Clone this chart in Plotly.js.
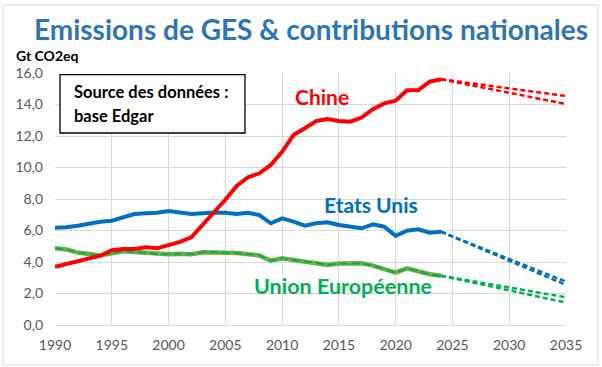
<!DOCTYPE html>
<html>
<head>
<meta charset="utf-8">
<script src="https://cdn.plot.ly/plotly-3.0.1.min.js"></script>
<style>
html,body{margin:0;padding:0;background:#fff;}
#chart{width:602px;height:367px;}
</style>
</head>
<body>
<div id="chart"></div>
<script>
// ---- Data ----
const years = [1990,1991,1992,1993,1994,1995,1996,1997,1998,1999,2000,2001,2002,2003,2004,2005,2006,2007,2008,2009,2010,2011,2012,2013,2014,2015,2016,2017,2018,2019,2020,2021,2022,2023,2024];
const chine = [3.70,3.90,4.05,4.23,4.40,4.75,4.83,4.83,4.93,4.87,5.05,5.28,5.57,6.35,7.15,7.95,8.83,9.38,9.63,10.16,11.00,12.06,12.49,12.95,13.08,12.95,12.91,13.17,13.70,14.07,14.24,14.90,14.92,15.45,15.60];
const etatsUnis = [6.18,6.20,6.30,6.45,6.56,6.62,6.84,7.05,7.10,7.13,7.24,7.13,7.05,7.10,7.15,7.13,7.05,7.13,6.98,6.46,6.77,6.56,6.31,6.46,6.52,6.35,6.24,6.14,6.39,6.24,5.66,5.99,6.08,5.86,5.92];
const unionEuropeenne = [4.87,4.80,4.60,4.50,4.42,4.55,4.68,4.63,4.59,4.50,4.49,4.52,4.49,4.62,4.63,4.58,4.57,4.50,4.42,4.08,4.23,4.13,4.02,3.96,3.81,3.90,3.92,3.92,3.77,3.54,3.32,3.60,3.43,3.22,3.13];

const projYears = [2024, 2035];
const chineProjHaut = [15.60, 14.54];
const chineProjBas = [15.60, 14.03];
const usProjHaut = [5.92, 2.75];
const usProjBas = [5.92, 2.54];
const ueProjHaut = [3.13, 1.76];
const ueProjBas = [3.13, 1.42];

const xTicks = [1990,1995,2000,2005,2010,2015,2020,2025,2030,2035];
const yTicks = [0,2,4,6,8,10,12,14,16];

const RED = '#FF0000', BLUE = '#0070C0', GREEN = '#00B050', LGREEN = '#70AD47';
const DASH = '5px,3px';

function line(x, y, color, width, dash) {
  return {x: x, y: y, type: 'scatter', mode: 'lines', hoverinfo: 'skip',
          line: {color: color, width: width, dash: dash || 'solid', shape: 'linear'}};
}

const traces = [
  line(projYears, chineProjHaut, RED, 2.5, DASH),
  line(projYears, chineProjBas, RED, 2.5, DASH),
  line(projYears, usProjHaut, BLUE, 2.5, DASH),
  line(projYears, usProjBas, BLUE, 2.5, DASH),
  line(projYears, ueProjHaut, GREEN, 2.5, DASH),
  line(projYears, ueProjBas, GREEN, 2.5, DASH),
  line(years, etatsUnis, BLUE, 4),
  line(years, unionEuropeenne, LGREEN, 4.5),
  line(years, unionEuropeenne, GREEN, 2, '8px,4px'),
  line(years, chine, RED, 4)
];

const FONT = 'Lato, "Open Sans", sans-serif';

const layout = {
  width: 602, height: 367,
  margin: {l: 55, r: 36, t: 73, b: 42, pad: 0},
  paper_bgcolor: '#fff', plot_bgcolor: '#fff',
  showlegend: false,
  separators: ', ',
  font: {family: FONT, color: '#595959'},
  title: {
    text: 'Emissions de GES & contributions nationales',
    font: {family: FONT, size: 28, color: '#2E75B6', weight: 'bold'},
    x: 311/602, xanchor: 'center', xref: 'container',
    y: 1 - 30/367, yanchor: 'middle', yref: 'container'
  },
  xaxis: {
    range: [1990, 2035], tickvals: xTicks, ticktext: xTicks.map(String),
    showgrid: true, gridcolor: '#D9D9D9', gridwidth: 1,
    zeroline: false, showline: false, ticks: '',
    ticklabelstandoff: 10,
    tickfont: {family: FONT, size: 14, color: '#595959'},
    fixedrange: true
  },
  yaxis: {
    range: [0, 16], tickvals: yTicks, tickformat: '.1f',
    showgrid: true, gridcolor: '#D9D9D9', gridwidth: 1,
    zeroline: true, zerolinecolor: '#D9D9D9', zerolinewidth: 1,
    showline: false, ticks: '',
    ticklabelstandoff: 11,
    tickfont: {family: FONT, size: 14, color: '#595959'},
    fixedrange: true
  },
  shapes: [
    {type: 'rect', xref: 'paper', yref: 'paper',
     x0: (3-55)/511, x1: (598-55)/511, y0: (325-365)/252, y1: (325-5)/252,
     line: {color: '#D9D9D9', width: 1}, fillcolor: 'rgba(0,0,0,0)', layer: 'below'},
    {type: 'rect', xref: 'x', yref: 'y',
     x0: 1990.44, x1: 2006.73, y0: 12.19, y1: 15.9,
     line: {color: '#000', width: 1.3}, fillcolor: '#fff', layer: 'above'}
  ],
  annotations: [
    {text: 'Gt CO2eq', xref: 'paper', yref: 'paper', x: (14-55)/511, y: (325-55)/252,
     xanchor: 'left', yanchor: 'middle', showarrow: false,
     font: {family: FONT, size: 14, color: '#000', weight: 'bold'}},
    {text: 'Source des données :', xref: 'x', yref: 'y', x: 1991.5, y: (325-92)/15.75,
     xanchor: 'left', yanchor: 'middle', showarrow: false,
     font: {family: FONT, size: 16.5, color: '#000', weight: 'bold'}},
    {text: 'base Edgar', xref: 'x', yref: 'y', x: 1991.5, y: (325-116)/15.75,
     xanchor: 'left', yanchor: 'middle', showarrow: false,
     font: {family: FONT, size: 16.5, color: '#000', weight: 'bold'}},
    {text: 'Chine', xref: 'x', yref: 'y', x: 2013.5, y: 14.48,
     xanchor: 'center', yanchor: 'middle', showarrow: false,
     font: {family: FONT, size: 21, color: RED, weight: 'bold'}},
    {text: 'Etats Unis', xref: 'x', yref: 'y', x: 2017.8, y: 7.62,
     xanchor: 'center', yanchor: 'middle', showarrow: false,
     font: {family: FONT, size: 21, color: BLUE, weight: 'bold'}},
    {text: 'Union Européenne', xref: 'x', yref: 'y', x: 2015.4, y: 2.48,
     xanchor: 'center', yanchor: 'middle', showarrow: false,
     font: {family: FONT, size: 21.5, color: GREEN, weight: 'bold'}}
  ]
};

Plotly.newPlot('chart', traces, layout, {staticPlot: true, displayModeBar: false});
</script>
</body>
</html>
